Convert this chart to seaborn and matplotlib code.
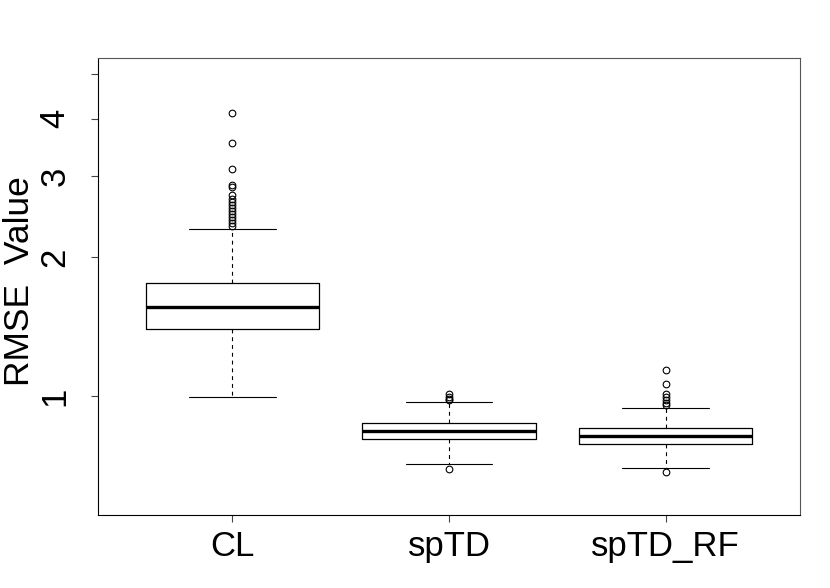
import matplotlib
matplotlib.use("Agg")
import matplotlib.pyplot as plt
import seaborn as sns

# ---- data ----
groups = ["CL", "spTD", "spTD_RF"]
whisker_low = [0.997, 0.712, 0.697]
q1 = [1.396, 0.807, 0.788]
median = [1.563, 0.839, 0.8175]
q3 = [1.762, 0.872, 0.851]
whisker_high = [2.305, 0.969, 0.943]
outliers_cl = [4.11, 3.54, 3.11, 2.87, 2.84, 2.73, 2.68, 2.64, 2.60, 2.56,
               2.52, 2.48, 2.45, 2.41, 2.38, 2.34]
outliers_sptd = [1.0085, 0.995, 0.985, 0.98, 0.693]
outliers_sptd_rf = [1.1405, 1.060, 1.0085, 0.995, 0.98, 0.966, 0.956, 0.685]
ytick_values = [1, 2, 3, 4, 5]
ytick_labels = ["1", "2", "3", "4", ""]
y_label = "RMSE  Value"

sns.set_theme(style="white")
plt.rcParams["font.family"] = ["Liberation Sans", "DejaVu Sans"]
plt.rcParams["text.color"] = "black"
plt.rcParams["axes.labelcolor"] = "black"
plt.rcParams["xtick.color"] = "black"
plt.rcParams["ytick.color"] = "black"

fig = plt.figure(figsize=(8.30, 5.88), dpi=100)
ax = fig.add_axes([98 / 830, 1 - 515 / 588, (800 - 98) / 830, (515 - 58) / 588])

fliers = [outliers_cl, outliers_sptd, outliers_sptd_rf]
stats = []
for i, g in enumerate(groups):
    stats.append(dict(label=g, whislo=whisker_low[i], q1=q1[i], med=median[i],
                      q3=q3[i], whishi=whisker_high[i], fliers=fliers[i]))

ax.bxp(stats, positions=[1, 2, 3], widths=0.8, capwidths=0.4,
       boxprops=dict(color="black", linewidth=0.9),
       medianprops=dict(color="black", linewidth=2.4, solid_capstyle="butt"),
       whiskerprops=dict(color="black", linewidth=0.8, linestyle=(0, (3.5, 3.5))),
       capprops=dict(color="black", linewidth=0.8),
       flierprops=dict(marker="o", markersize=4.8, markerfacecolor="none",
                       markeredgecolor="black", markeredgewidth=0.8))

ax.set_yscale("log")
ax.set_ylim(0.5516, 5.42)
ax.set_xlim(0.38, 3.62)
ax.set_yticks(ytick_values)
ax.set_yticklabels(ytick_labels, rotation=90, va="center")
ax.minorticks_off()
ax.set_xticks([1, 2, 3])
ax.set_xticklabels(groups)

for s in ax.spines.values():
    s.set_visible(True)
    s.set_color("black")
    s.set_linewidth(0.8)
ax.spines["top"].set_color("#555555")
ax.spines["right"].set_color("#555555")

ax.tick_params(axis="both", which="major", length=5, width=0.8, color="#444444",
               labelcolor="black", left=True, bottom=True, labelsize=25)
ax.tick_params(axis="x", pad=6)
ax.tick_params(axis="y", pad=14)
ax.set_ylabel(y_label, fontsize=25.5, color="black")
ax.yaxis.set_label_coords(-0.088, 0.512)

fig.savefig("out.png", dpi=100)
